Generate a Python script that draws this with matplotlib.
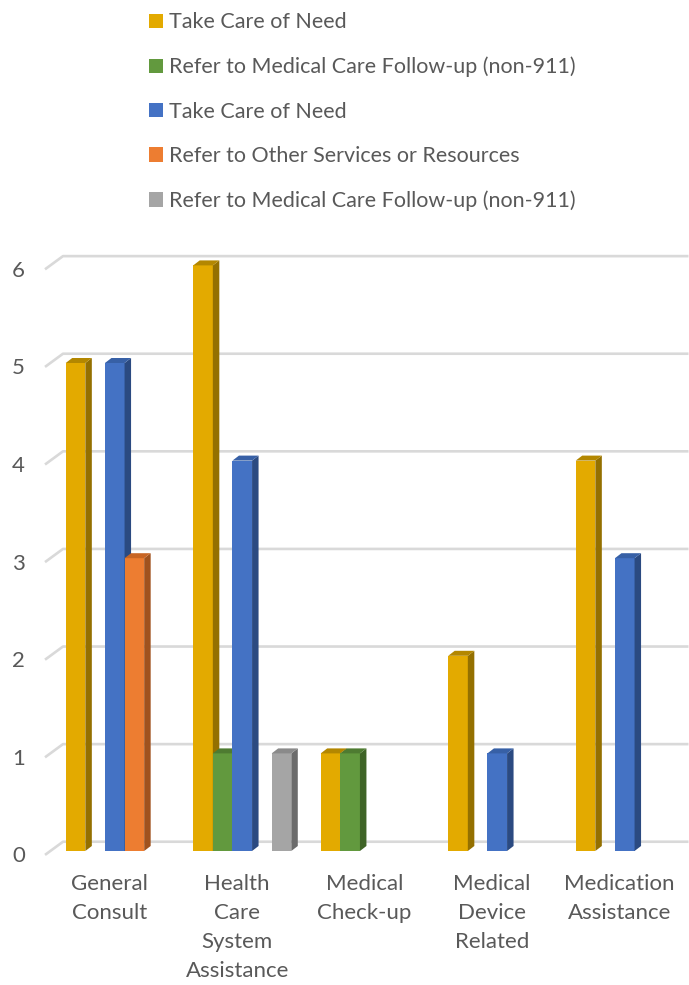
import numpy as np
import matplotlib.pyplot as plt
from matplotlib.patches import Polygon, Patch

plt.rcParams['font.family'] = ['Lato', 'DejaVu Sans']

categories = ["General\nConsult", "Health\nCare\nSystem\nAssistance", "Medical\nCheck-up",
              "Medical\nDevice\nRelated", "Medication\nAssistance"]

series_names = ["Take Care of Need",
                "Refer to Medical Care Follow-up (non-911)",
                "Take Care of Need",
                "Refer to Other Services or Resources",
                "Refer to Medical Care Follow-up (non-911)"]

take_care_a = [5, 6, 1, 2, 4]
follow_up_a = [0, 1, 1, 0, 0]
take_care_b = [5, 4, 0, 1, 3]
other_services = [3, 0, 0, 0, 0]
follow_up_b = [0, 1, 0, 0, 0]
series = [take_care_a, follow_up_a, take_care_b, other_services, follow_up_b]

# front, side, top colours per series
front = ["#E3AA00", "#62993E", "#4472C4", "#ED7D31", "#A5A5A5"]
side = ["#947000", "#3F6427", "#2B4A81", "#A0521E", "#6B6B6B"]
top = ["#B38700", "#4E7B31", "#3760A6", "#C86524", "#8A8A8A"]

text_color = "#595959"
grid_color = "#D9D9D9"
yticks = [0, 1, 2, 3, 4, 5, 6]

fig = plt.figure(figsize=(6.89, 9.85), dpi=100)
# x: one unit per category, y: value
ax = fig.add_axes([51 / 689, (985 - 851) / 985, 637.5 / 689, 6.2 * 97.6 / 985])
ax.set_xlim(0, 5)
ax.set_ylim(0, 6.2)
ax.axis("off")

n_series = len(series)
bw = 1 / 6.5
gap = 0.75 * bw
dx = 6.5 / 127.5
dy = 5 / 97.6

# gridlines: short wall diagonal plus back-wall line
for v in yticks:
    ax.plot([-0.047, 0.094, 5.0], [v - 0.04, v + 0.095, v + 0.095],
            color=grid_color, lw=1.9, zorder=1, clip_on=False, solid_capstyle="butt")
    ax.text(-0.255, v - 0.055, str(v), ha="center", va="center",
            fontsize=16, color=text_color, clip_on=False)

order = 0
for i in range(len(categories)):
    for j in range(n_series):
        h = series[j][i]
        if h <= 0:
            continue
        x = i + gap + j * bw
        z = 3 + order * 0.01
        order += 1
        ax.bar(x, h, bw, align="edge", color=front[j], lw=0, zorder=z)
        ax.add_patch(Polygon([(x + bw, 0), (x + bw + dx, dy), (x + bw + dx, h + dy), (x + bw, h)],
                             closed=True, fc=side[j], lw=0, zorder=z))
        ax.add_patch(Polygon([(x, h), (x + bw, h), (x + bw + dx, h + dy), (x + dx, h + dy)],
                             closed=True, fc=top[j], lw=0, zorder=z))

for i, lab in enumerate(categories):
    ax.text(i + 0.46, -0.235, lab, ha="center", va="top", fontsize=16,
            color=text_color, linespacing=1.57, clip_on=False)

handles = [Patch(facecolor=front[j], edgecolor="none") for j in range(n_series)]
leg = fig.legend(handles, series_names, loc="upper left", bbox_to_anchor=(143 / 689, 1 - 6 / 985),
                 frameon=False, fontsize=15.5, labelcolor=text_color,
                 handlelength=0.65, handleheight=0.65, handletextpad=0.28, labelspacing=1.13,
                 borderaxespad=0, borderpad=0.3)

fig.savefig("out.png", dpi=100)
